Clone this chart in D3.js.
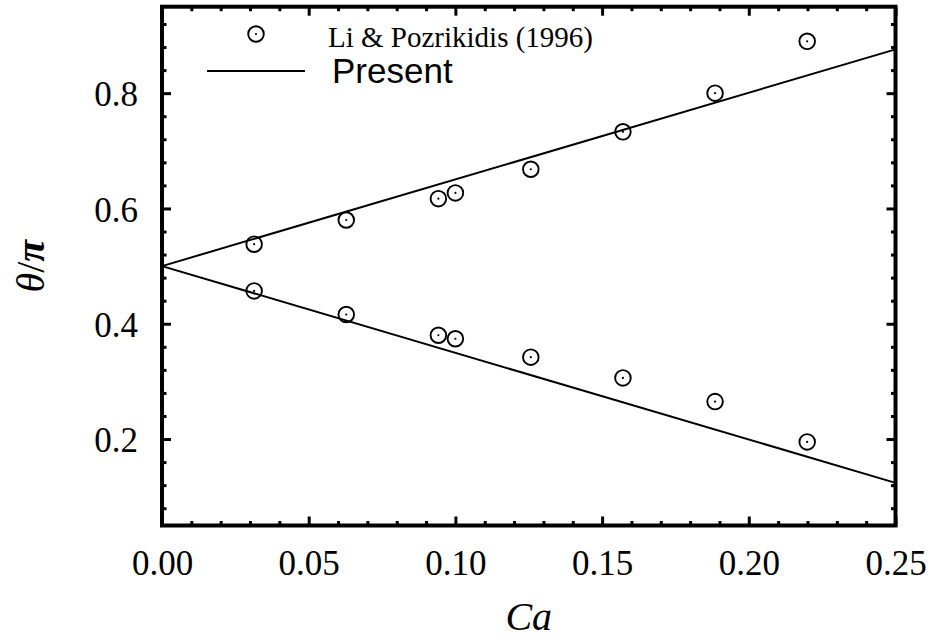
<!DOCTYPE html>
<html>
<head>
  <meta charset="UTF-8">
  <style>
    body { margin: 0; background: #fff; }
  </style>
</head>
<body>
<script src="https://d3js.org/d3.v7.min.js"></script>
<div id="my_dataviz"></div>
<script>

// data
var caValues   = [0.0314, 0.0628, 0.0942, 0.1, 0.1257, 0.1571, 0.1885, 0.2199];
var upperTheta = [0.538, 0.580, 0.617, 0.627, 0.668, 0.733, 0.800, 0.890];
var lowerTheta = [0.457, 0.416, 0.380, 0.374, 0.342, 0.306, 0.265, 0.195];

var presentCa    = [0, 0.25];
var presentUpper = [0.5, 0.876];
var presentLower = [0.5, 0.124];

var xMajor = [0, 0.05, 0.10, 0.15, 0.20, 0.25];
var xMinor = [0.01, 0.02, 0.03, 0.04, 0.06, 0.07, 0.08, 0.09, 0.11, 0.12, 0.13, 0.14,
              0.16, 0.17, 0.18, 0.19, 0.21, 0.22, 0.23, 0.24];
var yMajor = [0.2, 0.4, 0.6, 0.8];
var yMinor = [0.08, 0.12, 0.16, 0.24, 0.28, 0.32, 0.36, 0.44, 0.48, 0.52, 0.56, 0.64, 0.68, 0.72, 0.76, 0.84, 0.88, 0.92];

var legendLabels = ["Li & Pozrikidis (1996)", "Present"];

var W = 933, H = 640;
var pLeft = 162, pRight = 895.5, pTop = 6.7, pBottom = 525.5;

var svg = d3.select("#my_dataviz")
  .append("svg")
    .attr("width", W)
    .attr("height", H);

var x = d3.scaleLinear().domain([0, 0.25]).range([pLeft, pRight]);
var y = d3.scaleLinear().domain([0.05, 0.95]).range([pBottom, pTop]);

var serif = "'Liberation Serif', 'Times New Roman', serif";
var sans = "'Liberation Sans', Arial, sans-serif";

function styleAxis(g) {
  g.select(".domain").remove();
  g.selectAll(".tick line").attr("stroke", "#000").attr("stroke-width", 3);
}

// bottom axis with labels
svg.append("g")
  .attr("transform", "translate(0," + pBottom + ")")
  .call(d3.axisBottom(x).tickValues(xMajor).tickSize(-9).tickPadding(25).tickFormat(d3.format(".2f")))
  .call(styleAxis)
  .call(function(g) {
    g.selectAll("text").attr("font-family", serif).attr("font-size", "35px").attr("fill", "#000");
  });
svg.append("g")
  .attr("transform", "translate(0," + pBottom + ")")
  .call(d3.axisBottom(x).tickValues(xMinor).tickSize(-4.5).tickFormat(""))
  .call(styleAxis);

// top mirror
svg.append("g")
  .attr("transform", "translate(0," + pTop + ")")
  .call(d3.axisTop(x).tickValues(xMajor).tickSize(-9).tickFormat(""))
  .call(styleAxis);
svg.append("g")
  .attr("transform", "translate(0," + pTop + ")")
  .call(d3.axisTop(x).tickValues(xMinor).tickSize(-4.5).tickFormat(""))
  .call(styleAxis);

// left axis with labels
svg.append("g")
  .attr("transform", "translate(" + pLeft + ",0)")
  .call(d3.axisLeft(y).tickValues(yMajor).tickSize(-9).tickPadding(24).tickFormat(d3.format(".1f")))
  .call(styleAxis)
  .call(function(g) {
    g.selectAll("text").attr("font-family", serif).attr("font-size", "35px").attr("fill", "#000").attr("dy", "0.36em");
  });
svg.append("g")
  .attr("transform", "translate(" + pLeft + ",0)")
  .call(d3.axisLeft(y).tickValues(yMinor).tickSize(-4.5).tickFormat(""))
  .call(styleAxis);

// right mirror
svg.append("g")
  .attr("transform", "translate(" + pRight + ",0)")
  .call(d3.axisRight(y).tickValues(yMajor).tickSize(-9).tickFormat(""))
  .call(styleAxis);
svg.append("g")
  .attr("transform", "translate(" + pRight + ",0)")
  .call(d3.axisRight(y).tickValues(yMinor).tickSize(-4.5).tickFormat(""))
  .call(styleAxis);

// frame
svg.append("rect")
  .attr("x", pLeft)
  .attr("y", pTop)
  .attr("width", pRight - pLeft)
  .attr("height", pBottom - pTop)
  .attr("fill", "none")
  .attr("stroke", "#000")
  .attr("stroke-width", 4);

// present lines
var line = d3.line()
  .x(function(d) { return x(d[0]); })
  .y(function(d) { return y(d[1]); });

[presentUpper, presentLower].forEach(function(series) {
  svg.append("path")
    .datum(presentCa.map(function(c, i) { return [c, series[i]]; }))
    .attr("d", line)
    .attr("fill", "none")
    .attr("stroke", "#000")
    .attr("stroke-width", 2);
});

// reference points
var points = [];
caValues.forEach(function(c, i) {
  points.push([c, upperTheta[i]]);
  points.push([c, lowerTheta[i]]);
});

var marks = svg.append("g")
  .selectAll("g")
  .data(points)
  .enter()
  .append("g")
    .attr("transform", function(d) { return "translate(" + x(d[0]) + "," + y(d[1]) + ")"; });
marks.append("circle")
  .attr("r", 7.8)
  .attr("fill", "none")
  .attr("stroke", "#000")
  .attr("stroke-width", 1.9);
marks.append("circle")
  .attr("r", 1.1)
  .attr("fill", "#000");

// legend
var lg = svg.append("g");
lg.append("circle").attr("cx", 256).attr("cy", 34).attr("r", 7.8)
  .attr("fill", "none").attr("stroke", "#000").attr("stroke-width", 1.9);
lg.append("circle").attr("cx", 256).attr("cy", 34).attr("r", 1.1).attr("fill", "#000");
lg.append("text")
  .attr("x", 328).attr("y", 47)
  .attr("font-family", serif).attr("font-size", "29px")
  .text(legendLabels[0]);
lg.append("line")
  .attr("x1", 207).attr("x2", 305).attr("y1", 71).attr("y2", 71)
  .attr("stroke", "#000").attr("stroke-width", 2);
lg.append("text")
  .attr("x", 332).attr("y", 83)
  .attr("font-family", sans).attr("font-size", "35px")
  .text(legendLabels[1]);

// axis titles
svg.append("text")
  .attr("x", (pLeft + pRight) / 2)
  .attr("y", 630)
  .attr("text-anchor", "middle")
  .attr("font-family", serif).attr("font-size", "40px").attr("font-style", "italic")
  .text("Ca");

var yt = svg.append("text")
  .attr("transform", "translate(44," + ((pTop + pBottom) / 2) + ") rotate(-90)")
  .attr("text-anchor", "middle")
  .attr("font-family", serif).attr("font-size", "40px");
yt.append("tspan").attr("font-style", "italic").text("θ");
yt.append("tspan").text("/");
yt.append("tspan").attr("font-style", "italic").attr("font-weight", "bold").text("π");

</script>
</body>
</html>
